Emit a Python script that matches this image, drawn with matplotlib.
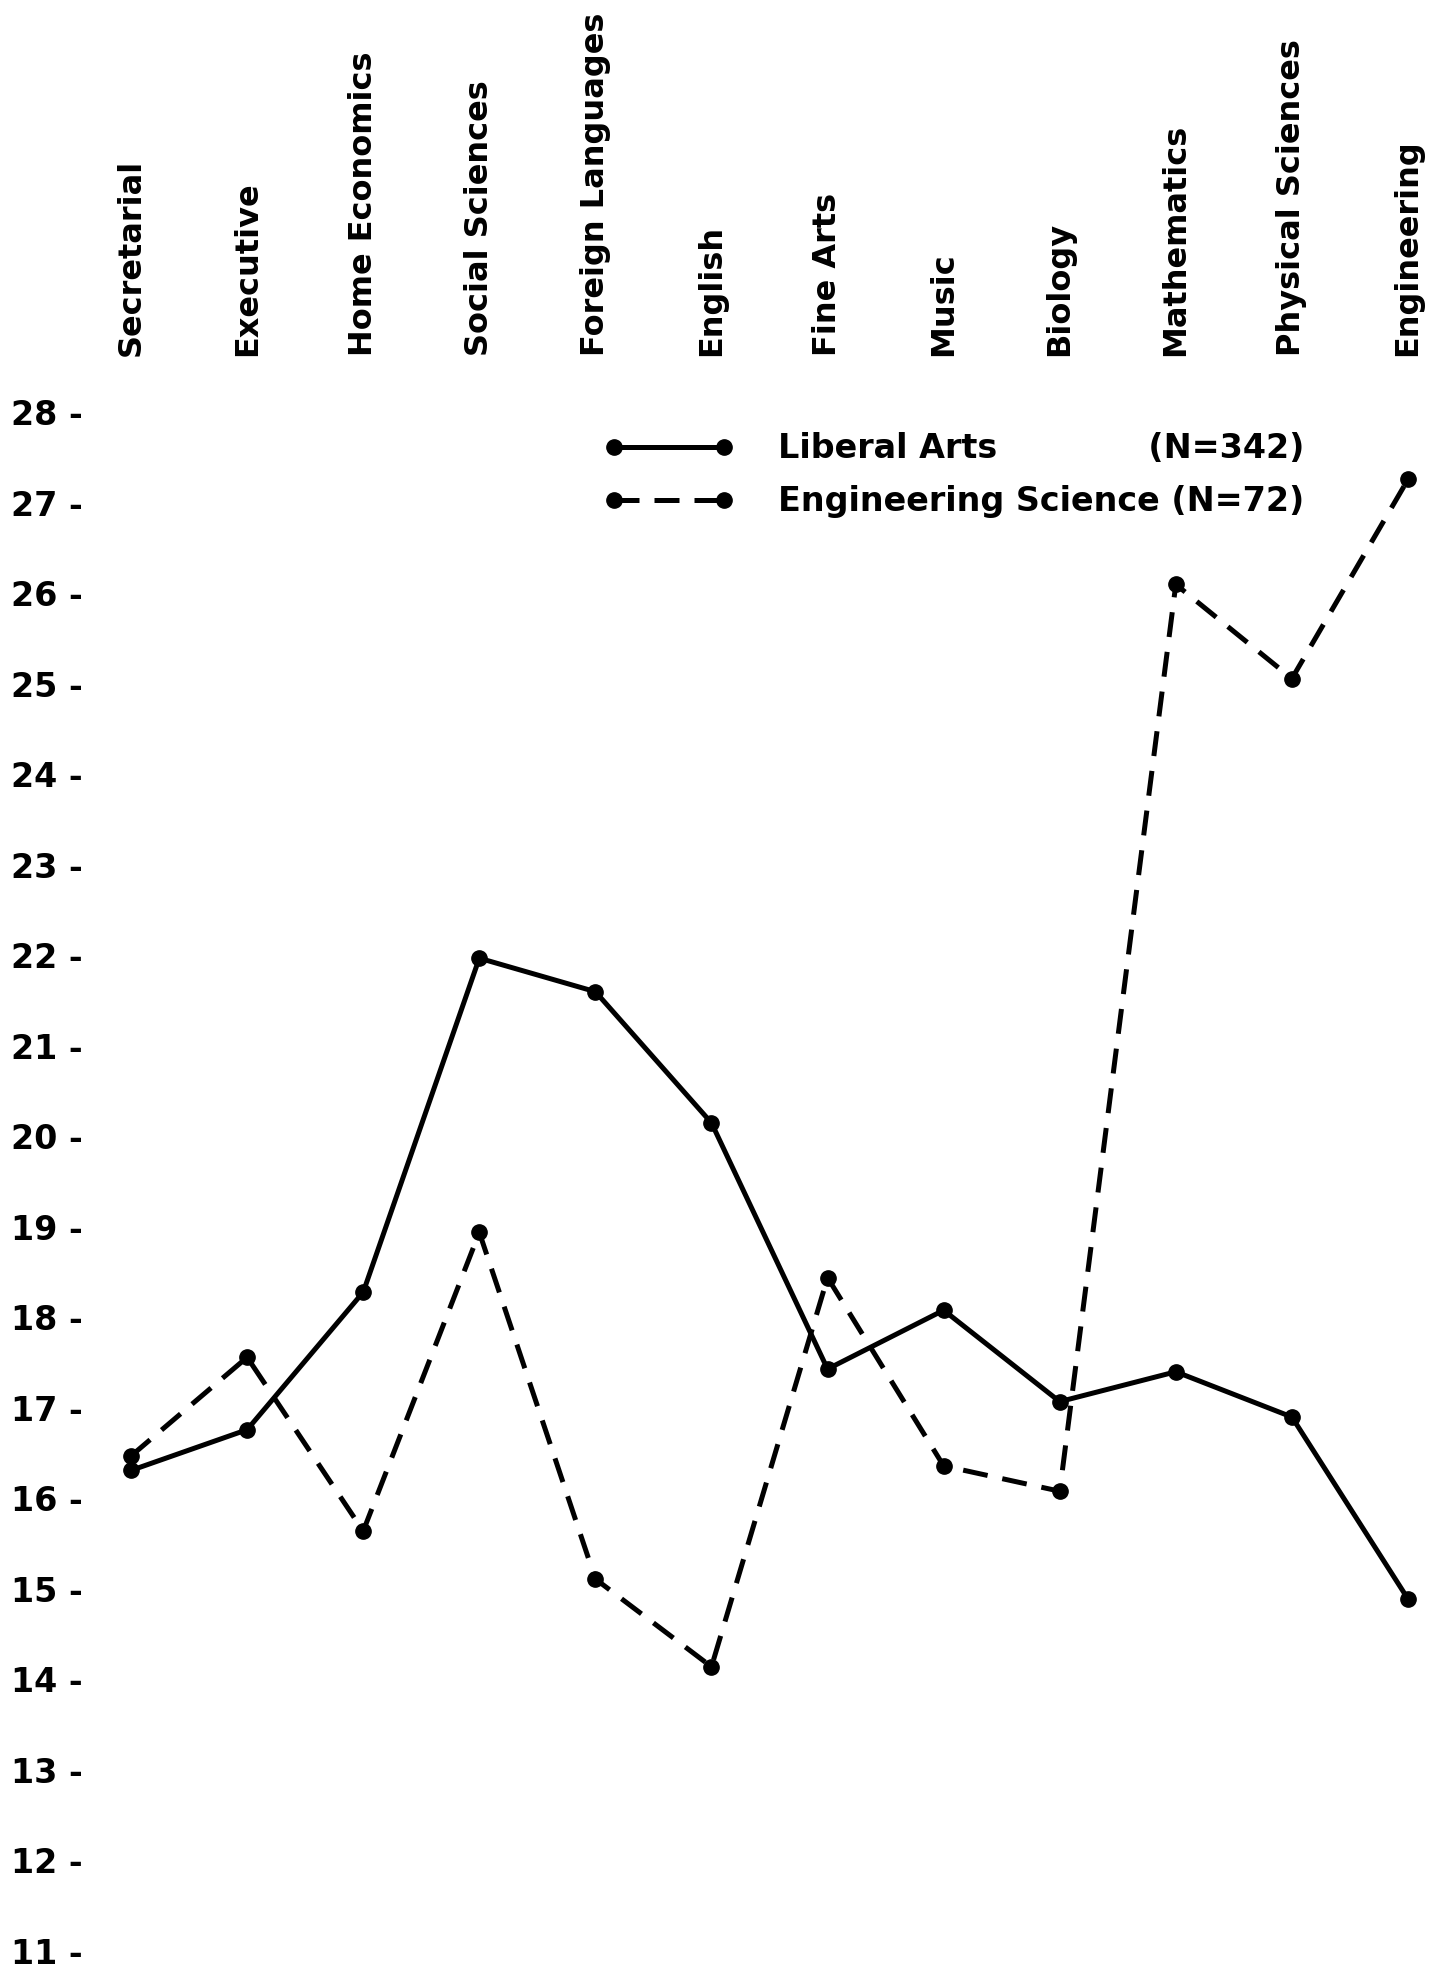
import numpy as np
import matplotlib.pyplot as plt

#==================data==================
fields = ["Secretarial", "Executive", "Home Economics", "Social Sciences",
          "Foreign Languages", "English", "Fine Arts", "Music", "Biology",
          "Mathematics", "Physical Sciences", "Engineering"]
liberal_arts = [16.31, 16.76, 18.28, 21.97, 21.6, 20.15, 17.43, 18.08, 17.07, 17.40, 16.90, 14.89]
eng_science = [16.47, 17.56, 15.64, 18.94, 15.11, 14.14, 18.44, 16.36, 16.08, 26.10, 25.06, 27.26]
y_ticks = list(range(11, 29))

plt.rcParams['font.family'] = 'DejaVu Sans'
plt.rcParams['font.weight'] = 'bold'

fig = plt.figure(figsize=(14.47, 19.72), dpi=100)
ax = fig.add_axes([0.0665, 0.0015, 0.9306, 0.7985])

x = np.arange(len(fields))
ax.plot(x, liberal_arts, color="black", lw=3.6, marker="o", ms=11,
        label="Liberal Arts             (N=342)")
ax.plot(x, eng_science, color="black", lw=3.6, marker="o", ms=11,
        linestyle=(0, (5, 3)), label="Engineering Science (N=72)")

ax.set_xlim(-0.3, 11.3)
ax.set_ylim(10.8, 28.2)

ax.set_yticks(y_ticks)
ax.set_yticklabels([f"{v} -" for v in y_ticks], fontsize=24, fontweight="bold")
ax.tick_params(axis="y", length=0, pad=10)

ax.xaxis.tick_top()
ax.set_xticks(x)
ax.set_xticklabels(fields, rotation=90, fontsize=23, fontweight="bold")
ax.tick_params(axis="x", length=0, pad=28)

for s in ax.spines.values():
    s.set_visible(False)

leg = ax.legend(loc="upper left", bbox_to_anchor=(0.355, 0.995), frameon=False,
                fontsize=24, handlelength=3.9, numpoints=2, labelspacing=0.6,
                handletextpad=1.3)

fig.savefig("out.png", dpi=100)
